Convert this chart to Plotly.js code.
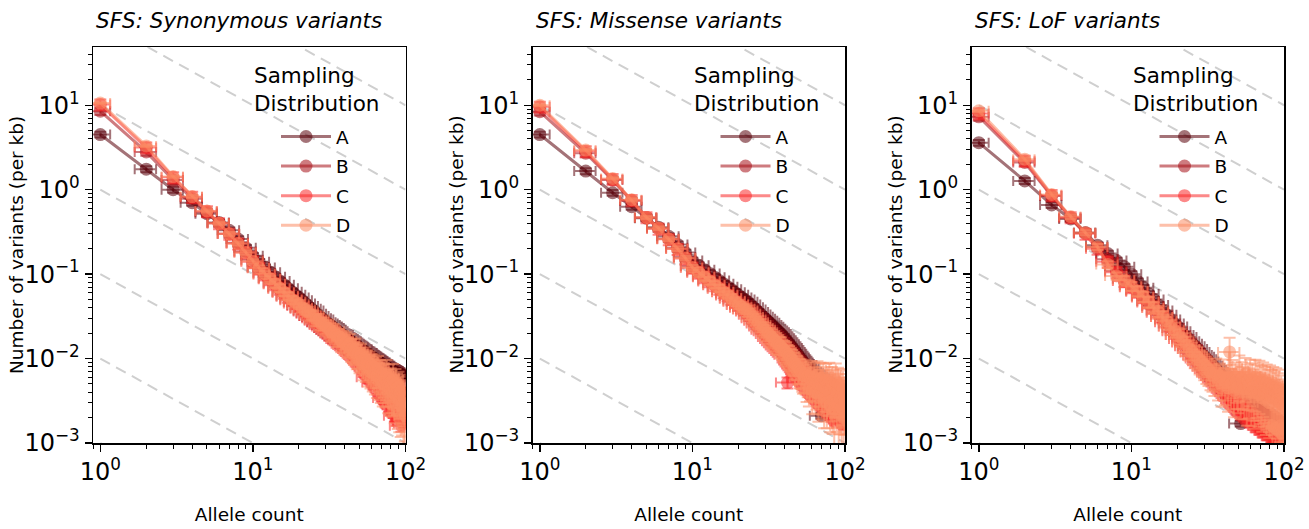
<!DOCTYPE html>
<html><head><meta charset="utf-8">
<script src="https://cdn.plot.ly/plotly-3.0.1.min.js"></script>
<style>html,body{margin:0;padding:0;background:#fff}#chart{width:1309px;height:529px}</style>
</head><body><div id="chart"></div>
<script>
// ---------------- DATA ----------------
const alleleCount = [1,2,3,4,5,6,7,8,9,10,11,12,13,14,15,16,17,18,19,20,21,22,23,24,25,26,27,28,29,30,31,32,33,34,35,36,37,38,39,40,41,42,43,44,45,46,47,48,49,50,51,52,53,54,55,56,57,58,59,60,61,62,63,64,65,66,67,68,69,70,71,72,73,74,75,76,77,78,79,80,81,82,83,84,85,86,87,88,89,90,91,92,93,94,95,96,97,98,99,100];
const seriesNames = ['A','B','C','D'];
const panelTitles = ['SFS: Synonymous variants','SFS: Missense variants','SFS: LoF variants'];
const legendTitle = 'Sampling<br>Distribution';
const xTitle = 'Allele count';
const yTitle = 'Number of variants (per kb)';
const xTickExps = [0, 1, 2];
const yTickExps = [-3, -2, -1, 0, 1];

// Synonymous
const synA = [4.5,1.75,1.0,0.70,0.52,0.41,0.33,0.26,0.205,0.165,
 0.14,0.12,0.105,0.093,0.083,0.075,0.068,0.062,0.057,0.053,
 0.049,0.045,0.042,0.039,0.037,0.034,0.032,0.030,0.029,0.027,
 0.026,0.025,0.024,0.023,0.022,0.021,0.020,0.0195,0.019,0.018,
 0.0175,0.017,0.0165,0.016,0.0155,0.015,0.0146,0.0142,0.0138,0.0134,
 0.0130,0.0128,0.0123,0.0121,0.0117,0.0116,0.0112,0.0110,0.0107,0.0105,
 0.0102,0.0101,0.0098,0.0097,0.0094,0.0093,0.0090,0.0090,0.0087,0.0086,
 0.0085,0.0082,0.0082,0.0079,0.0079,0.0077,0.0077,0.0075,0.0075,0.0073,
 0.0073,0.0071,0.0071,0.0069,0.0069,0.0068,0.0068,0.0067,0.0067,0.0066,
 0.0066,0.0065,0.0065,0.0064,0.0064,0.0063,0.0063,0.0063,0.0062,0.0062];
const synB = [8.5,2.8,1.3,0.78,0.54,0.40,0.30,0.235,0.185,0.148,
 0.122,0.104,0.090,0.079,0.070,0.062,0.056,0.051,0.047,0.043,
 0.040,0.037,0.035,0.032,0.031,0.029,0.027,0.026,0.025,0.023,
 0.022,0.021,0.020,0.0195,0.0185,0.018,0.017,0.0165,0.016,0.0155,
 0.015,0.0145,0.014,0.0135,0.013,0.0127,0.0123,0.012,0.0116,0.0113,
 0.011,0.0107,0.0104,0.0101,0.0098,0.0095,0.0093,0.0090,0.0088,0.0086,
 0.0083,0.0081,0.0079,0.0077,0.0075,0.0073,0.0071,0.0070,0.0068,0.0066,
 0.0065,0.0063,0.0062,0.0060,0.0059,0.0058,0.0056,0.0055,0.0054,0.0053,
 0.0052,0.0051,0.0050,0.0049,0.0048,0.0047,0.0046,0.0045,0.0044,0.0043,
 0.0043,0.0042,0.0041,0.0040,0.0040,0.0039,0.0038,0.0038,0.0037,0.0036];
const synC = [10.2,3.15,1.40,0.82,0.555,0.40,0.30,0.23,0.18,0.14,
 0.117,0.099,0.087,0.076,0.067,0.060,0.054,0.049,0.045,0.042,
 0.039,0.036,0.034,0.032,0.030,0.028,0.027,0.025,0.024,0.023,
 0.022,0.021,0.020,0.019,0.018,0.017,0.0165,0.016,0.015,0.0145,
 0.014,0.0135,0.013,0.0125,0.012,0.0115,0.011,0.0107,0.0103,0.0098,
 0.0095,0.0090,0.0088,0.0084,0.0080,0.0078,0.0060,0.0072,0.0069,0.0066,
 0.0064,0.0052,0.0059,0.0056,0.0055,0.0052,0.0051,0.0048,0.0047,0.0045,
 0.0044,0.0042,0.0034,0.0039,0.0038,0.0037,0.0035,0.0034,0.0033,0.0032,
 0.0031,0.0030,0.0029,0.0028,0.0028,0.0021,0.0026,0.0025,0.0024,0.0024,
 0.0023,0.0022,0.0022,0.0016,0.0020,0.0020,0.0019,0.0018,0.0018,0.0017];
const synD = [10.6,3.3,1.43,0.83,0.56,0.40,0.30,0.23,0.18,0.142,
 0.118,0.101,0.088,0.077,0.068,0.061,0.055,0.050,0.047,0.044,
 0.040,0.038,0.036,0.033,0.032,0.029,0.029,0.026,0.026,0.024,
 0.023,0.022,0.020,0.021,0.019,0.018,0.018,0.016,0.017,0.015,
 0.016,0.014,0.015,0.013,0.013,0.012,0.013,0.011,0.0115,0.010,
 0.011,0.0095,0.0088,0.0100,0.0085,0.0092,0.0078,0.0088,0.0075,0.0082,
 0.0070,0.0080,0.0066,0.0074,0.0062,0.0076,0.0060,0.0068,0.0056,0.0066,
 0.0052,0.0062,0.0058,0.0048,0.0064,0.0050,0.0046,0.0058,0.0044,0.0052,
 0.0048,0.0040,0.0056,0.0042,0.0038,0.0050,0.0036,0.0044,0.0034,0.0046,
 0.0032,0.0040,0.0028,0.0042,0.0030,0.0036,0.0024,0.0034,0.0026,0.0021];

// Missense
const misA = [4.5,1.66,0.92,0.63,0.46,0.36,0.28,0.225,0.18,0.145,
 0.127,0.113,0.102,0.092,0.084,0.077,0.071,0.066,0.061,0.057,
 0.053,0.050,0.047,0.0436,0.0406,0.038,0.0355,0.0333,0.0313,0.0296,
 0.028,0.0265,0.025,0.0238,0.0226,0.0215,0.0205,0.0195,0.0184,0.0174,
 0.0165,0.0156,0.0148,0.0140,0.0133,0.0126,0.0120,0.0114,0.0108,0.0103,
 0.0098,0.0094,0.0090,0.0086,0.0080,0.0084,0.0072,0.0078,0.0066,0.0070,
 0.0062,0.0067,0.0058,0.0064,0.0055,0.0060,0.0052,0.0058,0.0050,0.0021,
 0.0054,0.0047,0.0052,0.0045,0.0050,0.0043,0.0048,0.0041,0.0046,0.0040,
 0.0044,0.0038,0.0043,0.0037,0.0041,0.0035,0.0040,0.0034,0.0038,0.0033,
 0.0037,0.0032,0.0036,0.0031,0.0035,0.0030,0.0034,0.0029,0.0033,0.0028];
const misB = [8.4,2.7,1.3,0.74,0.47,0.35,0.265,0.205,0.16,0.125,
 0.108,0.096,0.086,0.078,0.071,0.065,0.059,0.055,0.050,0.047,
 0.043,0.041,0.039,0.036,0.033,0.031,0.029,0.027,0.025,0.0235,
 0.022,0.0205,0.0195,0.0185,0.0175,0.0165,0.0157,0.015,0.0142,0.0135,
 0.0128,0.0122,0.0116,0.011,0.0105,0.0099,0.0094,0.009,0.0086,0.0082,
 0.0078,0.0075,0.0072,0.0069,0.0066,0.0064,0.0061,0.0059,0.0057,0.0055,
 0.0053,0.0051,0.0050,0.0048,0.0047,0.0045,0.0044,0.0043,0.0042,0.0041,
 0.0040,0.0039,0.0038,0.0037,0.0036,0.0035,0.0035,0.0034,0.0033,0.0032,
 0.0032,0.0031,0.0030,0.0030,0.0029,0.0029,0.0028,0.0028,0.0027,0.0027,
 0.0026,0.0026,0.0025,0.0025,0.0025,0.0024,0.0024,0.0023,0.0023,0.0023];
const misC = [9.6,2.85,1.33,0.75,0.47,0.345,0.258,0.198,0.153,0.119,
 0.104,0.092,0.082,0.074,0.067,0.061,0.056,0.051,0.047,0.043,
 0.040,0.038,0.036,0.033,0.030,0.028,0.026,0.024,0.022,0.021,
 0.0195,0.018,0.017,0.016,0.0152,0.0143,0.0136,0.013,0.0123,0.0117,
 0.0111,0.0052,0.0100,0.0095,0.0090,0.0085,0.0081,0.0077,0.0073,0.0069,
 0.0066,0.0063,0.0060,0.0058,0.0055,0.0053,0.0051,0.0049,0.0047,0.0045,
 0.0044,0.0042,0.0041,0.0039,0.0038,0.0037,0.0036,0.0035,0.0034,0.0033,
 0.0032,0.0031,0.0030,0.0029,0.0029,0.0028,0.0027,0.0027,0.0026,0.0025,
 0.0025,0.0024,0.0024,0.0023,0.0023,0.0022,0.0022,0.0021,0.0021,0.0020,
 0.0020,0.0020,0.0019,0.0019,0.0018,0.0018,0.0018,0.0017,0.0017,0.0017];
const misD = [10.0,2.95,1.36,0.76,0.47,0.35,0.26,0.20,0.155,0.12,
 0.105,0.093,0.083,0.075,0.068,0.062,0.057,0.052,0.048,0.044,
 0.041,0.039,0.037,0.034,0.031,0.029,0.027,0.025,0.023,0.022,
 0.0205,0.019,0.018,0.017,0.016,0.015,0.0145,0.014,0.013,0.0125,
 0.012,0.0112,0.0107,0.0100,0.0096,0.0090,0.0086,0.0082,0.0078,0.0074,
 0.0071,0.0068,0.0064,0.0062,0.0068,0.0050,0.0062,0.0045,0.0058,0.0066,
 0.0042,0.0055,0.0060,0.0040,0.0052,0.0064,0.0038,0.0050,0.0058,0.0036,
 0.0048,0.0060,0.0034,0.0046,0.0055,0.0030,0.0050,0.0042,0.0056,0.0028,
 0.0045,0.0052,0.0032,0.0048,0.0025,0.0044,0.0054,0.0030,0.0040,0.0050,
 0.0022,0.0042,0.0034,0.0048,0.0026,0.0038,0.0044,0.0020,0.0036,0.0030];

// LoF
const lofA = [3.6,1.27,0.66,0.45,0.31,0.22,0.175,0.145,0.122,0.10,
 0.082,0.069,0.058,0.050,0.043,0.037,0.033,0.029,0.026,0.024,
 0.021,0.019,0.018,0.016,0.015,0.014,0.013,0.012,0.011,0.0105,
 0.0098,0.0092,0.0087,0.0082,0.0077,0.0073,0.0069,0.0066,0.0062,0.0059,
 0.0057,0.0054,0.0052,0.0050,0.0048,0.0046,0.0044,0.0043,0.0041,0.0040,
 0.0038,0.0017,0.0036,0.0035,0.0034,0.0033,0.0032,0.0031,0.0030,0.0030,
 0.0029,0.0028,0.0042,0.0027,0.0026,0.0026,0.0025,0.0025,0.0024,0.0038,
 0.0039,0.0023,0.0023,0.0022,0.0022,0.0021,0.0021,0.0021,0.0020,0.0020,
 0.0020,0.0019,0.0019,0.0019,0.0018,0.0018,0.0018,0.0017,0.0017,0.0017,
 0.0017,0.0016,0.0016,0.0016,0.0016,0.0015,0.0015,0.0015,0.0015,0.0015];
const lofB = [7.3,2.1,0.84,0.47,0.31,0.21,0.15,0.11,0.088,0.074,
 0.064,0.055,0.048,0.042,0.037,0.033,0.029,0.026,0.023,0.021,
 0.019,0.017,0.0155,0.014,0.013,0.012,0.011,0.0102,0.0095,0.0088,
 0.0082,0.0077,0.0072,0.0068,0.0064,0.0060,0.0057,0.0054,0.0051,0.0049,
 0.0047,0.0045,0.0043,0.0041,0.0040,0.0038,0.0037,0.0036,0.0035,0.0034,
 0.0033,0.0032,0.0031,0.0030,0.0030,0.0029,0.0028,0.0028,0.0027,0.0027,
 0.0026,0.0026,0.0025,0.0025,0.0024,0.0024,0.0024,0.0023,0.0023,0.0022,
 0.0022,0.0022,0.0021,0.0021,0.0021,0.0020,0.0020,0.0020,0.0019,0.0019,
 0.0019,0.0019,0.0018,0.0018,0.0018,0.0018,0.0017,0.0017,0.0017,0.0017,
 0.0016,0.0016,0.0016,0.0016,0.0016,0.0015,0.0015,0.0015,0.0015,0.0015];
const lofC = [8.0,2.2,0.86,0.47,0.30,0.20,0.14,0.105,0.083,0.070,
 0.062,0.053,0.046,0.040,0.035,0.031,0.027,0.024,0.021,0.019,
 0.017,0.0155,0.014,0.013,0.0118,0.0108,0.010,0.0093,0.0086,0.0080,
 0.0075,0.0070,0.0066,0.0062,0.0058,0.0055,0.0052,0.0049,0.0047,0.0044,
 0.0042,0.0040,0.0038,0.0036,0.0035,0.0033,0.0032,0.0030,0.0029,0.0028,
 0.0027,0.0026,0.0025,0.0024,0.0023,0.0023,0.0022,0.0021,0.0021,0.0020,
 0.0020,0.0019,0.0019,0.0018,0.0018,0.0017,0.0017,0.0017,0.0016,0.0016,
 0.0016,0.0015,0.0015,0.0015,0.0015,0.0014,0.0014,0.0014,0.0014,0.0013,
 0.0013,0.0013,0.0013,0.0013,0.0012,0.0012,0.0012,0.0012,0.0012,0.0012,
 0.0011,0.0011,0.0011,0.0011,0.0011,0.0011,0.0010,0.0010,0.0010,0.0010];
const lofD = [8.6,2.3,0.88,0.48,0.31,0.21,0.13,0.095,0.085,0.072,
 0.063,0.054,0.047,0.040,0.036,0.031,0.028,0.024,0.022,0.019,
 0.018,0.016,0.0145,0.013,0.012,0.011,0.0105,0.0095,0.009,0.0084,
 0.0078,0.0073,0.0068,0.0064,0.0060,0.0072,0.0055,0.0062,0.0048,0.0068,
 0.0052,0.0058,0.0045,0.0120,0.0050,0.0065,0.0042,0.0060,0.0055,0.0046,
 0.0070,0.0040,0.0058,0.0052,0.0044,0.0066,0.0038,0.0055,0.0048,0.0062,
 0.0040,0.0056,0.0046,0.0035,0.0060,0.0044,0.0052,0.0038,0.0058,0.0042,
 0.0050,0.0034,0.0055,0.0040,0.0048,0.0032,0.0052,0.0038,0.0045,0.0030,
 0.0050,0.0036,0.0044,0.0016,0.0048,0.0034,0.0042,0.0015,0.0046,0.0032,
 0.0040,0.0014,0.0044,0.0030,0.0016,0.0038,0.0013,0.0034,0.0015,0.0028];

// relative (percent) y-errors of series D, per panel
const errDsyn = [2,3,3,4,4,4,5,5,6,6, 7,7,8,9,9,10,10,11,12,12, 13,13,14,15,15,16,17,17,18,19,
 20,20,22,21,23,24,23,26,25,27, 28,27,30,29,31,30,33,32,34,33, 36,34,37,35,38,36,40,37,41,38,
 42,39,43,40,45,41,46,42,47,43, 48,44,49,45,50,46,51,47,52,48, 53,49,54,50,55,50,56,51,57,52,
 58,52,58,53,59,53,60,54,60,55];
const errDmis = [2,3,3,4,4,5,5,6,6,7, 7,8,9,9,10,10,11,12,12,13, 14,14,15,16,16,17,18,18,19,20,
 21,21,23,22,24,25,24,27,26,28, 29,28,31,30,32,31,34,33,35,34, 38,36,40,37,42,39,44,40,46,42,
 48,43,50,44,52,45,53,46,54,47, 55,48,56,49,57,50,58,51,59,52, 60,53,60,54,61,55,62,55,62,56,
 63,56,63,57,64,57,64,58,65,58];
const errDlof = [3,4,5,6,7,8,9,10,11,12, 13,14,15,16,17,18,19,20,21,22, 24,25,26,27,28,30,31,32,33,34,
 36,35,38,37,40,39,42,41,44,43, 46,45,48,47,50,48,52,50,54,51, 55,52,56,53,57,54,58,55,59,56,
 60,57,60,58,61,58,62,59,62,60, 63,60,63,61,64,61,64,62,65,62, 65,63,66,63,66,64,67,64,67,65,
 68,65,68,66,68,66,69,66,69,67];
// relative (percent) errors of A, B, C and x-errors
const errYPctABC = [8, 10, 15];
const errXPct = 16;

// reference guide levels (y = level / x)
const guideLevels = [1e-3, 1e-2, 1e-1, 1, 10, 100, 1000];

const panels = [
  {vals: [synA, synB, synC, synD], errD: errDsyn},
  {vals: [misA, misB, misC, misD], errD: errDmis},
  {vals: [lofA, lofB, lofC, lofD], errD: errDlof}
];

// ---------------- STYLE / LAYOUT ----------------
const colorsRGB = [[90,0,10],[165,15,21],[250,40,40],[252,140,100]];
const ALPHA = 0.55;
const rgba = (c, a) => `rgba(${c[0]},${c[1]},${c[2]},${a})`;

const W = 1309, H = 529;
const M = {l: 93, r: 25, t: 47, b: 86};
const PW = W - M.l - M.r, PH = H - M.t - M.b;
const fx = px => (px - M.l) / PW;
const fy = py => (H - M.b - py) / PH;
const panelLeft = [93, 532.5, 971.5];
const panelWidth = 312.5;
const FONT = 'DejaVu Sans, Liberation Sans, sans-serif';
// Plotly draws array-mode log tick labels at 3/4 of tickfont.size; compensate
const TICK_FONT = 18 * 4 / 3;

const sup = e => '10<sup>' + (e < 0 ? '\u2212' + (-e) : e) + '</sup>';
const xMinor = [], yMinor = [];
[-1, 0, 1].forEach(k => { for (let m = 2; m <= 9; m++) { const v = m * Math.pow(10, k); if (v >= 0.9 && v < 100) xMinor.push(v); } });
[-3, -2, -1, 0, 1].forEach(k => { for (let m = 2; m <= 9; m++) { const v = m * Math.pow(10, k); if (v < 49) yMinor.push(v); } });

const traces = [];
const layout = {
  width: W, height: H, margin: M,
  paper_bgcolor: 'white', plot_bgcolor: 'white',
  font: {family: FONT, color: 'black', size: 18.5},
  showlegend: true,
  annotations: []
};

panels.forEach((pan, p) => {
  const sfx = p === 0 ? '' : String(p + 1);
  const xa = 'x' + sfx, ya = 'y' + sfx;
  const lg = 'legend' + sfx;

  // guide lines
  guideLevels.forEach(c => {
    traces.push({
      x: [alleleCount[0], alleleCount[alleleCount.length - 1]],
      y: [c / alleleCount[0], c / alleleCount[alleleCount.length - 1]],
      xaxis: xa, yaxis: ya, mode: 'lines', type: 'scatter',
      line: {color: '#cfcfcf', width: 2, dash: '11px,7px'},
      showlegend: false, hoverinfo: 'skip'
    });
  });

  pan.vals.forEach((vals, s) => {
    const col = rgba(colorsRGB[s], ALPHA);
    const errY = s === 3
      ? {type: 'data', array: vals.map((v, i) => v * pan.errD[i] / 100), color: col, thickness: 2, width: 6}
      : {type: 'percent', value: errYPctABC[s], color: col, thickness: 2, width: 6};
    traces.push({
      x: alleleCount, y: vals, xaxis: xa, yaxis: ya,
      type: 'scatter', mode: 'lines+markers', name: seriesNames[s],
      legend: lg, legendgroup: seriesNames[s] + p,
      line: {color: col, width: 3},
      marker: {color: col, size: 13, line: {width: 0}},
      error_y: errY,
      error_x: {type: 'percent', value: errXPct, color: col, thickness: 2, width: 5}
    });
  });

  const common = {
    type: 'log', showgrid: false, zeroline: false,
    showline: true, linecolor: 'black', linewidth: 1.5, mirror: true,
    ticks: 'outside', ticklen: 7, tickwidth: 1.5, tickcolor: 'black',
    tickmode: 'array',
    tickfont: {size: TICK_FONT, family: FONT, color: 'black'},
    automargin: false
  };
  layout['xaxis' + sfx] = Object.assign({}, common, {
    domain: [fx(panelLeft[p]), Math.min(1, fx(panelLeft[p] + panelWidth))],
    range: [-0.048, 2.0], anchor: ya,
    tickvals: xTickExps.map(e => Math.pow(10, e)), ticktext: xTickExps.map(sup),
    minor: {tickmode: 'array', tickvals: xMinor, ticks: 'outside', ticklen: 4, tickwidth: 1, tickcolor: 'black'},
    title: {text: xTitle, font: {size: 18.5, family: FONT}, standoff: 23}
  });
  layout['yaxis' + sfx] = Object.assign({}, common, {
    domain: [0, 1], range: [-3, 1.69], anchor: xa,
    tickvals: yTickExps.map(e => Math.pow(10, e)), ticktext: yTickExps.map(sup),
    minor: {tickmode: 'array', tickvals: yMinor, ticks: 'outside', ticklen: 4, tickwidth: 1, tickcolor: 'black'}
  });

  // y-axis title (placed as rotated text to sit close to the tick labels)
  layout.annotations.push({
    text: yTitle, xref: 'paper', yref: 'paper', textangle: -90,
    x: fx(panelLeft[p] - 77), y: fy(245), xanchor: 'center', yanchor: 'middle',
    showarrow: false, font: {size: 18.5, family: FONT, color: 'black'}
  });

  layout[lg] = {
    x: fx(panelLeft[p] - 93 + 276), y: fy(118), xanchor: 'left', yanchor: 'top',
    bgcolor: 'rgba(0,0,0,0)', borderwidth: 0,
    font: {size: 18.5, family: FONT, color: 'black'},
    traceorder: 'grouped', tracegroupgap: 2.5, itemwidth: 50
  };

  layout.annotations.push({
    text: panelTitles[p], xref: 'paper', yref: 'paper',
    x: fx(panelLeft[p] + 1), y: fy(20), xanchor: 'left', yanchor: 'middle',
    showarrow: false, font: {size: 21.5, family: FONT, style: 'italic', color: 'black'}
  });
  layout.annotations.push({
    text: legendTitle, xref: 'paper', yref: 'paper', align: 'left',
    x: fx(panelLeft[p] - 93 + 252), y: fy(61), xanchor: 'left', yanchor: 'top',
    showarrow: false, font: {size: 21.5, family: FONT, color: 'black'}
  });
});

Plotly.newPlot('chart', traces, layout, {displayModeBar: false, staticPlot: true});
</script>
</body></html>
